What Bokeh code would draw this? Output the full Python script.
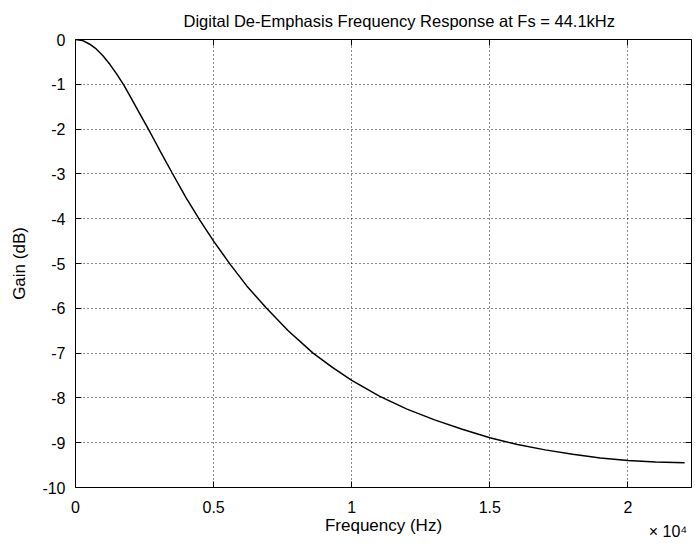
from bokeh.plotting import figure
from bokeh.models import Range1d, FixedTicker, LinearAxis, Title
from bokeh.embed import file_html
from bokeh.resources import INLINE

# ---- data ----
freq_hz = [0, 250, 500, 750, 1000, 1250, 1500, 1750, 2000, 2350, 2700, 3100,
           3500, 4000, 4500, 5000, 5600, 6200, 6900, 7700, 8600, 9300, 10000,
           11000, 12000, 13000, 14000, 15000, 16000, 17000, 18000, 19000,
           20000, 21000, 22050]
gain_db = [0.00, -0.02, -0.10, -0.21, -0.37, -0.56, -0.78, -1.02, -1.29, -1.68,
           -2.07, -2.53, -2.98, -3.53, -4.03, -4.50, -5.02, -5.50, -5.99, -6.50,
           -7.00, -7.32, -7.61, -7.96, -8.25, -8.49, -8.70, -8.89, -9.04, -9.16,
           -9.26, -9.34, -9.40, -9.43, -9.45]

x_ticks = [0, 5000, 10000, 15000, 20000]
x_tick_labels = ["0", "0.5", "1", "1.5", "2"]
y_ticks = [0, -1, -2, -3, -4, -5, -6, -7, -8, -9, -10]
y_tick_labels = ["0", "-1", "-2", "-3", "-4", "-5", "-6", "-7", "-8", "-9", "-10"]
x_exponent_pos = 21450          # where the "x 10^4" multiplier sits
x_exponent_text = "\u00d7 10\u2074"

title_text = "Digital De-Emphasis Frequency Response at Fs = 44.1kHz"
x_label = "Frequency (Hz)"
y_label = "Gain (dB)"
x_limits = (0, 22300)
y_limits = (-10, 0)

FONT = "Liberation Sans"

p = figure(width=695, height=546,
           x_range=Range1d(*x_limits), y_range=Range1d(*y_limits),
           output_backend="svg", toolbar_location=None,
           min_border_left=75, min_border_right=4,
           min_border_top=39, min_border_bottom=59)

p.background_fill_color = "white"
p.border_fill_color = "white"
p.outline_line_color = "black"
p.outline_line_width = 1
p.outline_line_alpha = 1

# title
p.title = Title(text=title_text, align="left", offset=108,
                vertical_align="top", standoff=16,
                text_font=FONT, text_font_size="16.5px",
                text_font_style="normal", text_color="black")

def tick_only(ax, ticks):
    ax.ticker = FixedTicker(ticks=ticks)
    ax.major_label_overrides = {t: "" for t in ticks}
    ax.axis_line_color = None
    ax.major_tick_in = 6
    ax.major_tick_out = 0
    ax.minor_tick_in = 0
    ax.minor_tick_out = 0
    ax.major_tick_line_color = "black"
    ax.minor_tick_line_color = None
    ax.major_label_standoff = 0
    ax.major_label_text_font_size = "1px"

# bottom: inner axis draws the inward ticks only
tick_only(p.below[0], x_ticks)

# bottom: outer axis carries tick labels, multiplier and axis label
xlab_ticks = x_ticks + [x_exponent_pos]
xlab_texts = x_tick_labels + ["\n" + x_exponent_text]
xa = LinearAxis(ticker=FixedTicker(ticks=xlab_ticks))
xa.major_label_overrides = {t: l for t, l in zip(xlab_ticks, xlab_texts)}
xa.axis_line_color = None
xa.major_tick_in = 0
xa.major_tick_out = 0
xa.minor_tick_in = 0
xa.minor_tick_out = 0
xa.major_tick_line_color = None
xa.minor_tick_line_color = None
xa.major_label_text_font = FONT
xa.major_label_text_font_size = "16px"
xa.major_label_text_color = "black"
xa.major_label_text_line_height = 1.45
xa.major_label_standoff = 11
xa.axis_label = x_label
xa.axis_label_text_font = FONT
xa.axis_label_text_font_size = "17px"
xa.axis_label_text_font_style = "normal"
xa.axis_label_text_color = "black"
xa.axis_label_standoff = -27
p.add_layout(xa, "below")

# left axis
ya = p.left[0]
ya.ticker = FixedTicker(ticks=y_ticks)
ya.major_label_overrides = {t: l for t, l in zip(y_ticks, y_tick_labels)}
ya.axis_line_color = None
ya.major_tick_in = 6
ya.major_tick_out = 0
ya.minor_tick_in = 0
ya.minor_tick_out = 0
ya.major_tick_line_color = "black"
ya.minor_tick_line_color = None
ya.major_label_text_font = FONT
ya.major_label_text_font_size = "16px"
ya.major_label_text_color = "black"
ya.major_label_standoff = 10
ya.axis_label = y_label
ya.axis_label_text_font = FONT
ya.axis_label_text_font_size = "17px"
ya.axis_label_text_font_style = "normal"
ya.axis_label_text_color = "black"
ya.axis_label_standoff = 10

# box ticks on top and right
top_ax = LinearAxis()
right_ax = LinearAxis()
tick_only(top_ax, x_ticks)
tick_only(right_ax, y_ticks)
p.add_layout(top_ax, "above")
p.add_layout(right_ax, "right")

# grid
p.xgrid.ticker = FixedTicker(ticks=x_ticks)
p.ygrid.ticker = FixedTicker(ticks=y_ticks)
for g in (p.xgrid, p.ygrid):
    g.grid_line_color = "black"
    g.grid_line_dash = "1 3"
    g.grid_line_width = 1
    g.grid_line_alpha = 0.9

# curve
p.line(freq_hz, gain_db, line_color="black", line_width=1.5)

open("out.html", "w").write(file_html(p, INLINE))
